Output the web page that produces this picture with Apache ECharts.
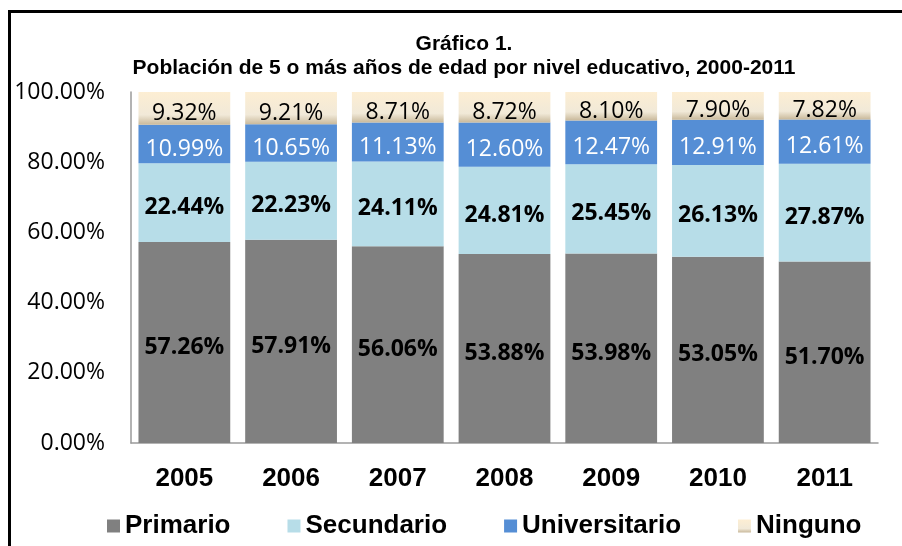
<!DOCTYPE html>
<html>
<head>
<meta charset="utf-8">
<script src="https://cdn.jsdelivr.net/npm/echarts@6/dist/echarts.min.js"></script>
<style>
    body { margin: 0; background: #fff; }
    #chart { width: 902px; height: 546px; }
    /* marco negro del gráfico (izquierda y arriba) */
    #frame {
        position: absolute; left: 8px; top: 10px; width: 1000px; height: 1000px;
        border-left: 3px solid #000; border-top: 3px solid #000;
        pointer-events: none;
    }
</style>
</head>
<body>
<div id="chart"></div>
<div id="frame"></div>
<script>
const years = ['2005', '2006', '2007', '2008', '2009', '2010', '2011'];
const primario = [57.26, 57.91, 56.06, 53.88, 53.98, 53.05, 51.70];
const secundario = [22.44, 22.23, 24.11, 24.81, 25.45, 26.13, 27.87];
const universitario = [10.99, 10.65, 11.13, 12.60, 12.47, 12.91, 12.61];
const ninguno = [9.32, 9.21, 8.71, 8.72, 8.10, 7.90, 7.82];

const labelFont = '"Open Sans", sans-serif';
const pct = p => p.value.toFixed(2) + '%';

const chart = echarts.init(document.getElementById('chart'));
const option = {
    animation: false,
    title: {
        text: 'Gráfico 1.\nPoblación de 5 o más años de edad por nivel educativo, 2000-2011',
        left: 464,
        top: 32,
        padding: 0,
        textAlign: 'center',
        textStyle: {
            fontFamily: '"Liberation Sans", Arial, sans-serif',
            fontWeight: 'bold',
            fontSize: 21,
            lineHeight: 24,
            color: '#000'
        }
    },
    grid: {
        left: 131,
        right: 24,
        top: 92,
        bottom: 103,
        containLabel: false
    },
    legend: {
        left: 102,
        top: 508,
        icon: 'rect',
        itemWidth: 13,
        itemHeight: 13,
        itemGap: 57,
        textStyle: {
            fontFamily: '"Liberation Sans", Arial, sans-serif',
            fontWeight: 'bold',
            fontSize: 26,
            color: '#000'
        }
    },
    xAxis: {
        type: 'category',
        data: years,
        axisLine: { lineStyle: { color: '#9a9a9a', width: 1.5 } },
        axisTick: { show: false },
        axisLabel: {
            margin: 23,
            fontFamily: '"Liberation Sans", Arial, sans-serif',
            fontWeight: 'bold',
            fontSize: 26,
            color: '#000'
        }
    },
    yAxis: {
        type: 'value',
        min: 0,
        max: 100,
        interval: 20,
        splitLine: { show: false },
        axisLine: { show: true, lineStyle: { color: '#9a9a9a', width: 1.5 } },
        axisTick: { show: false },
        axisLabel: {
            margin: 26,
            padding: [6, 0, 0, 0],
            fontFamily: labelFont,
            fontSize: 23,
            color: '#000',
            formatter: v => v.toFixed(2) + '%'
        }
    },
    series: [
        {
            name: 'Primario', type: 'bar', stack: 'total', data: primario,
            barCategoryGap: '14%',
            itemStyle: { color: '#808080' },
            label: { show: true, position: 'inside', offset: [0, 5], formatter: pct,
                fontFamily: labelFont, fontSize: 23, fontWeight: 'bold', color: '#000' }
        },
        {
            name: 'Secundario', type: 'bar', stack: 'total', data: secundario,
            itemStyle: { color: '#b7dde8' },
            label: { show: true, position: 'inside', offset: [0, 5], formatter: pct,
                fontFamily: labelFont, fontSize: 23, fontWeight: 'bold', color: '#000' }
        },
        {
            name: 'Universitario', type: 'bar', stack: 'total', data: universitario,
            itemStyle: { color: '#558ed5' },
            label: { show: true, position: 'inside', offset: [0, 5], formatter: pct,
                fontFamily: labelFont, fontSize: 23, color: '#fff' }
        },
        {
            name: 'Ninguno', type: 'bar', stack: 'total', data: ninguno,
            itemStyle: {
                color: new echarts.graphic.LinearGradient(0, 0, 0, 1, [
                    { offset: 0, color: '#fdeed3' },
                    { offset: 0.7, color: '#f1e9d8' },
                    { offset: 1, color: '#c9b99b' }
                ])
            },
            label: { show: true, position: 'inside', offset: [0, 5], formatter: pct,
                fontFamily: labelFont, fontSize: 23, color: '#000' }
        }
    ]
};
chart.setOption(option);
</script>
</body>
</html>
